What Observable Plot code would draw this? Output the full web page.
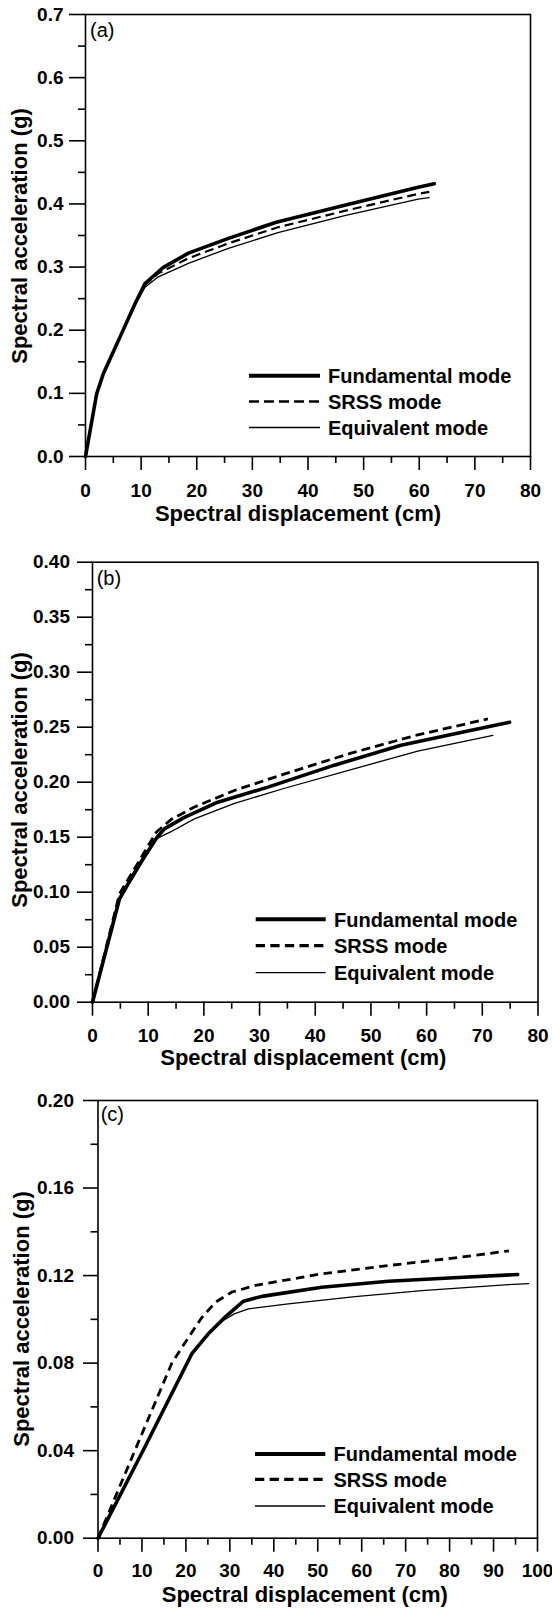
<!DOCTYPE html>
<html>
<head>
<meta charset="utf-8">
<script src="https://cdn.jsdelivr.net/npm/d3@7"></script>
<script src="https://cdn.jsdelivr.net/npm/@observablehq/plot@0.6"></script>
<style>
html, body { margin: 0; padding: 0; background: #fff; }
#wrap { position: relative; width: 552px; height: 1608px; overflow: hidden; background: #fff; }
.panel { position: absolute; left: 0; }
</style>
</head>
<body>
<div id="wrap"></div>
<script>
const FONT = '"Liberation Sans", Arial, Helvetica, sans-serif';

// ---------- text ----------
const seriesNames = ["Fundamental mode", "SRSS mode", "Equivalent mode"];
const xTitle = "Spectral displacement (cm)";
const yTitle = "Spectral acceleration (g)";
const panelLabels = ["(a)", "(b)", "(c)"];

// ---------- panel (a) ----------
const a_xMajor = [0, 10, 20, 30, 40, 50, 60, 70, 80];
const a_xMinor = [5, 15, 25, 35, 45, 55, 65, 75];
const a_yMajor = [0.0, 0.1, 0.2, 0.3, 0.4, 0.5, 0.6, 0.7];
const a_yMinor = [0.05, 0.15, 0.25, 0.35, 0.45, 0.55, 0.65];
const a_fundamental = [[0,0],[2,0.099],[3.2,0.131],[6.5,0.195],[8.9,0.242],[10.7,0.274],[14,0.2995],[18.5,0.322],[25.7,0.3455],[34.3,0.371],[46.6,0.398],[59.8,0.4265],[62.7,0.432]];
const a_srss = [[0,0],[2,0.099],[3.2,0.131],[6.5,0.195],[8.9,0.241],[10.7,0.272],[13.1,0.29],[18.5,0.314],[25.7,0.3376],[34.6,0.363],[46.6,0.389],[59.8,0.416],[61.8,0.419]];
const a_equivalent = [[0,0],[2,0.099],[3.2,0.131],[6.5,0.195],[8.9,0.24],[10.7,0.268],[13.1,0.2846],[18.5,0.306],[25.7,0.3297],[34.6,0.3545],[46.6,0.3815],[59.8,0.4075],[61.8,0.41]];

// ---------- panel (b) ----------
const b_xMajor = [0, 10, 20, 30, 40, 50, 60, 70, 80];
const b_xMinor = [5, 15, 25, 35, 45, 55, 65, 75];
const b_yMajor = [0, 0.05, 0.10, 0.15, 0.20, 0.25, 0.30, 0.35, 0.40];
const b_yMinor = [0.025, 0.075, 0.125, 0.175, 0.225, 0.275, 0.325, 0.375];
const b_fundamental = [[0,0],[4.85,0.094],[8.1,0.1227],[11.6,0.15],[12.9,0.1576],[16.5,0.168],[22.5,0.1818],[31.5,0.1955],[43.45,0.2155],[55.4,0.2335],[67.4,0.2465],[74.9,0.2545]];
const b_srss = [[0,0],[4.85,0.0985],[8.1,0.126],[11.44,0.1545],[14.1,0.166],[18.3,0.1775],[25.5,0.1925],[34.5,0.2075],[46.45,0.2265],[58.4,0.243],[71,0.2576]];
const b_equivalent = [[0,0],[4.85,0.093],[8.1,0.12],[11.44,0.1485],[14.1,0.155],[18.3,0.1667],[25.5,0.1808],[34.5,0.1945],[46.45,0.2115],[58.4,0.2282],[71.9,0.2425]];

// ---------- panel (c) ----------
const c_xMajor = [0, 10, 20, 30, 40, 50, 60, 70, 80, 90, 100];
const c_xMinor = [5, 15, 25, 35, 45, 55, 65, 75, 85, 95];
const c_yMajor = [0, 0.04, 0.08, 0.12, 0.16, 0.20];
const c_yMinor = [0.02, 0.06, 0.10, 0.14, 0.18];
const c_fundamental = [[0,0],[10.35,0.0404],[21.35,0.0843],[25.1,0.0934],[28.9,0.101],[33.1,0.1083],[37.3,0.1105],[50.9,0.1147],[66.1,0.1174],[81,0.119],[95.5,0.1205]];
const c_srss = [[0,0],[8.46,0.0404],[16.8,0.08],[20.6,0.0918],[23.5,0.1005],[26.7,0.1078],[30.4,0.1124],[35.8,0.1155],[50.9,0.1208],[66.1,0.1246],[81.3,0.1281],[93.5,0.1313]];
const c_equivalent = [[0,0],[10.35,0.0404],[21.35,0.0843],[25.1,0.0934],[28.5,0.0995],[31,0.1025],[34.2,0.1048],[43.3,0.1071],[58.5,0.1104],[73.7,0.1131],[93.4,0.1159],[98,0.1163]];

// ---------- layout (pixels, not data) ----------
const panels = [
  { top: 0, height: 535, mt: 14, mb: 79, ml: 85, mr: 22,
    xDomain: [0, 80], yDomain: [0, 0.7], xMajor: a_xMajor, xMinor: a_xMinor, yMajor: a_yMajor, yMinor: a_yMinor,
    yFmt: ".1f", yTick: 16, yPad: 6, xPad: 13.3, dashW: 2.2, dash: "9,5", lgDash: "10,5",
    fund: a_fundamental, srss: a_srss, equiv: a_equivalent,
    label: panelLabels[0], labelX: 90, labelY: 37.3,
    xtX: 298, xtY: 520.7, ytX: 26.5, ytY: 236,
    lgX1: 249, lgX2: 320, lgT: 328, lgY: [375.7, 401.5, 427.5] },
  { top: 535, height: 540, mt: 26.7, mb: 73.3, ml: 92, mr: 14.5,
    xDomain: [0, 80], yDomain: [0, 0.4], xMajor: b_xMajor, xMinor: b_xMinor, yMajor: b_yMajor, yMinor: b_yMinor,
    yFmt: ".2f", yTick: 15, yPad: 7.5, xPad: 12, dashW: 2.8, dash: "9,5", lgDash: "9.3,5.3",
    fund: b_fundamental, srss: b_srss, equiv: b_equivalent,
    label: panelLabels[1], labelX: 96.7, labelY: 49.6,
    xtX: 303.3, xtY: 530, ytX: 26.5, ytY: 245,
    lgX1: 255.7, lgX2: 325.7, lgT: 334, lgY: [384.3, 410.7, 437.7] },
  { top: 1075, height: 533, mt: 25, mb: 70.3, ml: 97.5, mr: 15,
    xDomain: [0, 100], yDomain: [0, 0.2], xMajor: c_xMajor, xMinor: c_xMinor, yMajor: c_yMajor, yMinor: c_yMinor,
    yFmt: ".2f", yTick: 14.5, yPad: 9.5, xPad: 11.6, dashW: 2.8, dash: "8.5,5.5", lgDash: "9.3,5.3",
    fund: c_fundamental, srss: c_srss, equiv: c_equivalent,
    label: panelLabels[2], labelX: 100.7, labelY: 45.6,
    xtX: 304.8, xtY: 526.7, ytX: 29, ytY: 244,
    lgX1: 255, lgX2: 325.3, lgT: 333.5, lgY: [379, 404.3, 431] }
];

const wrap = document.getElementById("wrap");

for (const p of panels) {
  const fx = d => d[0], fy = d => d[1];
  const svg = Plot.plot({
    width: 552,
    height: p.height,
    marginTop: p.mt, marginBottom: p.mb, marginLeft: p.ml, marginRight: p.mr,
    x: { domain: p.xDomain },
    y: { domain: p.yDomain },
    style: { fontFamily: FONT, background: "white", color: "black", overflow: "visible" },
    marks: [
      Plot.axisX({ ticks: p.xMajor, tickSize: 14, tickPadding: p.xPad, tickFormat: d3.format("d"),
        fontSize: 19, fontWeight: "bold", label: null, stroke: "black", strokeWidth: 1.6 }),
      Plot.axisX({ ticks: p.xMinor, tickSize: 7, tickFormat: () => "", label: null, stroke: "black", strokeWidth: 1.6 }),
      Plot.axisY({ ticks: p.yMajor, tickSize: p.yTick, tickPadding: p.yPad, tickFormat: d3.format(p.yFmt),
        fontSize: 19, fontWeight: "bold", label: null, stroke: "black", strokeWidth: 1.6 }),
      Plot.axisY({ ticks: p.yMinor, tickSize: 7, tickFormat: () => "", label: null, stroke: "black", strokeWidth: 1.6 }),
      Plot.line(p.equiv, { x: fx, y: fy, stroke: "black", strokeWidth: 1.3 }),
      Plot.line(p.srss, { x: fx, y: fy, stroke: "black", strokeWidth: p.dashW, strokeDasharray: p.dash, strokeLinecap: "butt" }),
      Plot.line(p.fund, { x: fx, y: fy, stroke: "black", strokeWidth: 3.6 }),
      Plot.frame({ stroke: "black", strokeWidth: 1.6 })
    ]
  });

  const s = d3.select(svg);
  // panel label
  s.append("text").attr("x", p.labelX).attr("y", p.labelY).attr("text-anchor", "start")
    .attr("font-family", FONT).attr("font-size", 20).attr("font-weight", "normal").attr("fill", "black").text(p.label);
  // x title
  s.append("text").attr("x", p.xtX).attr("y", p.xtY).attr("text-anchor", "middle")
    .attr("font-family", FONT).attr("font-size", 22).attr("font-weight", "bold").attr("fill", "black").text(xTitle);
  // y title
  s.append("text").attr("transform", `translate(${p.ytX},${p.ytY}) rotate(-90)`).attr("text-anchor", "middle")
    .attr("font-family", FONT).attr("font-size", 22).attr("font-weight", "bold").attr("fill", "black").text(yTitle);
  // legend
  const lstyles = [
    { w: 4, dash: null },
    { w: p.dashW + 0.4, dash: p.lgDash },
    { w: 1.3, dash: null }
  ];
  const lg = s.append("g");
  seriesNames.forEach((name, i) => {
    const ln = lg.append("line").attr("x1", p.lgX1).attr("x2", p.lgX2).attr("y1", p.lgY[i]).attr("y2", p.lgY[i])
      .attr("stroke", "black").attr("stroke-width", lstyles[i].w);
    if (lstyles[i].dash) ln.attr("stroke-dasharray", lstyles[i].dash);
    lg.append("text").attr("x", p.lgT).attr("y", p.lgY[i]).attr("dy", "0.36em").attr("text-anchor", "start")
      .attr("font-family", FONT).attr("font-size", 20).attr("font-weight", "bold").attr("fill", "black").text(name);
  });

  const div = document.createElement("div");
  div.className = "panel";
  div.style.top = p.top + "px";
  div.appendChild(svg);
  wrap.appendChild(div);
}
</script>
</body>
</html>
